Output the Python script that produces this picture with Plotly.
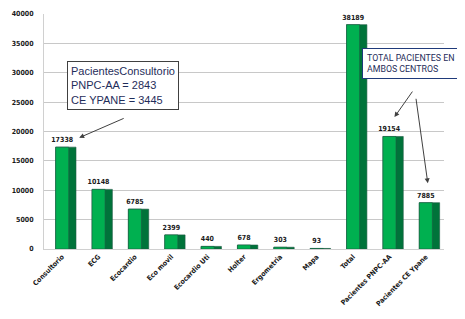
import plotly.graph_objects as go

categories = ["Consultorio", "ECG", "Ecocardio", "Eco movil", "Ecocardio Uti", "Holter",
              "Ergometria", "Mapa", "Total", "Pacientes PNPC-AA", "Pacientes CE Ypane"]
values = [17338, 10148, 6785, 2399, 440, 678, 303, 93, 38189, 19154, 7885]
y_ticks = [0, 5000, 10000, 15000, 20000, 25000, 30000, 35000, 40000]

FONT = "Liberation Sans Narrow, DejaVu Sans Condensed, Arial Narrow, sans-serif"
BOXFONT = "Liberation Sans, Arial, sans-serif"

fig = go.Figure()
# dark side face (3D look)
fig.add_trace(go.Bar(
    x=categories, y=values, width=0.56, offset=-0.18,
    marker=dict(color="#00733A", line=dict(color="#1E5A44", width=0.6)),
    hoverinfo="skip", showlegend=False))
# front face
fig.add_trace(go.Bar(
    x=categories, y=values, width=0.36, offset=-0.18,
    marker=dict(color="#00B050", line=dict(color="#1E5A44", width=0.6)),
    text=[str(v) for v in values], textposition="outside", cliponaxis=False,
    constraintext="none",
    textfont=dict(family=FONT, size=7, color="#1a1a1a", weight="bold"),
    showlegend=False))

fig.update_layout(
    width=465, height=319, barmode="overlay",
    margin=dict(l=36, r=29, t=6, b=78),
    paper_bgcolor="white", plot_bgcolor="white",
    font=dict(family=FONT),
    xaxis=dict(tickangle=-45, showgrid=False, showline=True, linecolor="#D0D0D0",
               tickfont=dict(family=FONT, size=7, color="#1a1a1a", weight="bold"),
               ticks="", range=[-0.5, len(categories) - 0.5], automargin=False),
    yaxis=dict(range=[0, 40000], tickvals=y_ticks, tickformat="d", showgrid=True,
               gridcolor="#C8C8C8", gridwidth=1, showline=True, linecolor="#D0D0D0",
               zeroline=False, ticklabelstandoff=8, automargin=False,
               tickfont=dict(family=FONT, size=7, color="#1a1a1a", weight="bold")),
    annotations=[
        dict(xref="paper", yref="paper", x=(67 - 44) / 400, y=(319 - 70 - 61) / 235,
             xanchor="left", yanchor="top", showarrow=False, align="left",
             text="PacientesConsultorio<br>PNPC-AA = 2843<br>CE YPANE = 3445",
             font=dict(family=BOXFONT, size=11, color="#1F2D5A"),
             bordercolor="#404040", borderwidth=1, bgcolor="white", borderpad=3),
        dict(x=0, y=values[0] + 1600, xref="x", yref="y", text="", showarrow=True,
             arrowhead=2, arrowsize=1, arrowwidth=1, arrowcolor="#404040",
             ax=46, ay=-20, xshift=17),
        dict(xref="paper", yref="paper", x=(362 - 44) / 400, y=(319 - 70 - 48) / 235,
             xanchor="left", yanchor="top", showarrow=False, align="left",
             text="TOTAL PACIENTES EN<br>AMBOS CENTROS",
             font=dict(family="Roboto, sans-serif", size=8.8, color="#1F2D5A"),
             bordercolor="#1F3A7A", borderwidth=1, bgcolor="white", borderpad=4),
        dict(x=9, y=values[9] + 3300, xref="x", yref="y", text="", showarrow=True,
             arrowhead=2, arrowsize=1, arrowwidth=1, arrowcolor="#404040",
             ax=19, ay=-27, xshift=5),
        dict(x=10, y=values[10] + 3300, xref="x", yref="y", text="", showarrow=True,
             arrowhead=2, arrowsize=1, arrowwidth=1, arrowcolor="#404040",
             ax=-12, ay=-86, xshift=2),
    ],
)

fig.write_html("out.html")
